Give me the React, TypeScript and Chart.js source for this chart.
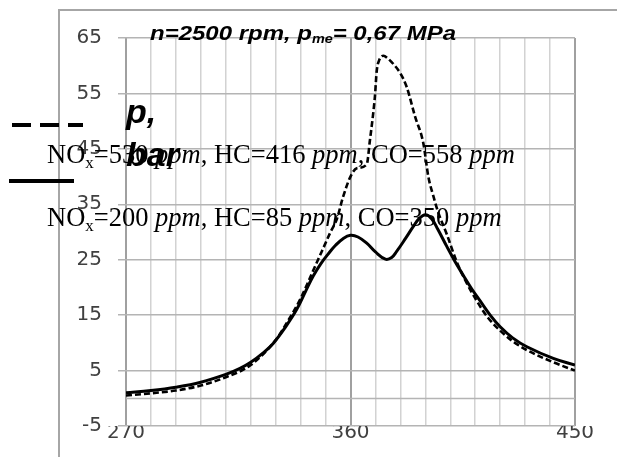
import React, { useEffect, useRef } from 'react';
import { Chart, registerables } from 'chart.js';

Chart.register(...registerables);

// Crank angle [deg] and cylinder pressure [bar]
// Solid curve: NOx=200 ppm, HC=85 ppm, CO=350 ppm
const solidAngles = [270, 280, 290, 300, 310, 315.7, 320, 325, 329, 334, 338.4, 342, 345, 348, 351, 354, 357, 360, 363, 366.5, 370, 374, 376.5, 378.5, 382, 385.2, 387.5, 390, 392.5, 395, 398.6, 402, 405.2, 408.5, 411.9, 416, 420, 425, 430.7, 441.3, 450];
const solidPressure = [1.0, 1.4, 2.0, 2.9, 4.3, 5.4, 6.5, 8.2, 9.9, 12.9, 16.0, 19.3, 22.0, 24.2, 26.0, 27.6, 28.8, 29.4, 29.1, 28.0, 26.4, 25.1, 25.4, 26.5, 28.8, 31.0, 32.4, 33.1, 32.4, 30.5, 27.4, 24.6, 22.2, 19.8, 17.6, 15.0, 12.9, 10.9, 9.3, 7.2, 6.0];

// Dashed curve: NOx=530 ppm, HC=416 ppm, CO=558 ppm
const dashedAngles = [270, 280, 290, 300, 310, 320, 330, 335, 340, 345, 349, 352, 354.5, 357, 360, 362.5, 366.5, 367.8, 369, 369.8, 370.5, 371.5, 373.2, 375, 377.2, 379.9, 382.5, 385.9, 389.2, 391.2, 393.2, 395.2, 398.6, 402.6, 406, 410.6, 415, 420, 425, 430.7, 441.3, 450];
const dashedPressure = [0.5, 0.9, 1.4, 2.3, 3.8, 6.0, 10.5, 14.0, 18.0, 23.0, 27.0, 30.0, 32.3, 36.3, 40.0, 41.5, 42.2, 46.6, 51.0, 54.5, 59.0, 61.0, 61.8, 61.3, 60.3, 58.7, 56.2, 50.8, 46.0, 40.0, 36.5, 33.5, 29.6, 24.6, 21.3, 17.6, 14.6, 12.2, 10.3, 8.7, 6.5, 5.0];

const xLabeledTicks = [270, 360, 450];
const xMajorTicks = [270, 360, 450];
const yMin = -5;
const yMax = 65;
const yStep = 10;
const xMin = 270;
const xMax = 450;
const xStep = 10;

const titleMain = 'n=2500 rpm, p';
const titleSub = 'me';
const titleTail = '= 0,67 MPa';
const axisLabelLine1 = 'p,';
const axisLabelLine2 = 'bar';

type Seg = { t: string; italic?: boolean; sub?: boolean };
const legendDashed: Seg[] = [
  { t: 'NO' }, { t: 'x', sub: true }, { t: '=530 ' }, { t: 'ppm', italic: true },
  { t: ', HC=416 ' }, { t: 'ppm', italic: true }, { t: ', CO=558 ' }, { t: 'ppm', italic: true },
];
const legendSolid: Seg[] = [
  { t: 'NO' }, { t: 'x', sub: true }, { t: '=200 ' }, { t: 'ppm', italic: true },
  { t: ', HC=85 ' }, { t: 'ppm', italic: true }, { t: ', CO=350 ' }, { t: 'ppm', italic: true },
];

const SERIF = '"Liberation Serif", "Times New Roman", serif';
const SANS = '"Liberation Sans", Arial, sans-serif';

function drawSerifLine(ctx: CanvasRenderingContext2D, segs: Seg[], x: number, y: number) {
  let cx = x;
  for (const s of segs) {
    const size = s.sub ? 17 : 26.5;
    ctx.font = `${s.italic ? 'italic ' : ''}${size}px ${SERIF}`;
    ctx.fillText(s.t, cx, s.sub ? y + 5 : y);
    cx += ctx.measureText(s.t).width;
  }
}

const overlayPlugin = {
  id: 'overlay',
  beforeDraw(chart: any) {
    const ctx = chart.ctx as CanvasRenderingContext2D;
    ctx.save();
    ctx.fillStyle = '#ffffff';
    ctx.fillRect(0, 0, chart.width, chart.height);
    ctx.strokeStyle = '#a6a6a6';
    ctx.lineWidth = 2;
    ctx.beginPath();
    ctx.moveTo(59, chart.height);
    ctx.lineTo(59, 10);
    ctx.lineTo(chart.width, 10);
    ctx.stroke();
    ctx.restore();
  },
  beforeDatasetsDraw(chart: any) {
    const ctx = chart.ctx as CanvasRenderingContext2D;
    const area = chart.chartArea;
    const y0 = Math.round(chart.scales.y.getPixelForValue(0)) + 0.5;
    ctx.save();
    ctx.strokeStyle = '#b4b4b4';
    ctx.lineWidth = 1.5;
    ctx.beginPath();
    ctx.moveTo(area.left, y0);
    ctx.lineTo(area.right, y0);
    ctx.stroke();
    ctx.restore();
  },
  afterDraw(chart: any) {
    const ctx = chart.ctx as CanvasRenderingContext2D;
    ctx.save();
    ctx.fillStyle = '#000';
    ctx.textBaseline = 'alphabetic';
    ctx.textAlign = 'left';

    // Title
    const bigFont = `italic bold 20px ${SANS}`;
    const subFont = `italic bold 12px ${SANS}`;
    ctx.font = bigFont;
    const w1 = ctx.measureText(titleMain).width;
    const w3 = ctx.measureText(titleTail).width;
    ctx.font = subFont;
    const w2 = ctx.measureText(titleSub).width;
    const natural = w1 + w2 + w3;
    const scaleX = 306 / natural;
    ctx.save();
    ctx.translate(150, 40);
    ctx.scale(scaleX, 1);
    ctx.font = bigFont;
    ctx.fillText(titleMain, 0, 0);
    ctx.font = subFont;
    ctx.fillText(titleSub, w1, 3);
    ctx.font = bigFont;
    ctx.fillText(titleTail, w1 + w2, 0);
    ctx.restore();

    // Legend line samples
    ctx.strokeStyle = '#000';
    ctx.lineWidth = 4;
    ctx.setLineDash([19, 9]);
    ctx.beginPath();
    ctx.moveTo(12, 125);
    ctx.lineTo(83, 125);
    ctx.stroke();
    ctx.setLineDash([]);
    ctx.beginPath();
    ctx.moveTo(9, 181);
    ctx.lineTo(74, 181);
    ctx.stroke();

    // Legend texts
    drawSerifLine(ctx, legendDashed, 47, 163);
    drawSerifLine(ctx, legendSolid, 47, 226);

    // Axis label
    ctx.font = `italic bold 34px ${SANS}`;
    ctx.fillText(axisLabelLine1, 126, 123);
    ctx.fillText(axisLabelLine2, 126, 166);
    ctx.restore();
  },
};

export default function App() {
  const canvasRef = useRef<HTMLCanvasElement | null>(null);

  useEffect(() => {
    if (!canvasRef.current) return;
    const chart = new Chart(canvasRef.current, {
      type: 'line',
      data: {
        datasets: [
          {
            label: 'NOx=530 ppm, HC=416 ppm, CO=558 ppm',
            data: dashedAngles.map((x, i) => ({ x, y: dashedPressure[i] })),
            borderColor: '#000',
            borderWidth: 2.6,
            borderDash: [6, 3],
            pointRadius: 0,
            cubicInterpolationMode: 'monotone',
            fill: false,
          },
          {
            label: 'NOx=200 ppm, HC=85 ppm, CO=350 ppm',
            data: solidAngles.map((x, i) => ({ x, y: solidPressure[i] })),
            borderColor: '#000',
            borderWidth: 3,
            pointRadius: 0,
            tension: 0.4,
            fill: false,
          },
        ],
      },
      options: {
        responsive: false,
        animation: false,
        devicePixelRatio: 1,
        layout: { padding: { top: 38, right: 42, bottom: 0, left: 0 } },
        plugins: {
          legend: { display: false },
          tooltip: { enabled: false },
          title: { display: false },
        },
        scales: {
          x: {
            type: 'linear',
            min: xMin,
            max: xMax,
            border: { display: false },
            afterFit: (scale: any) => { scale.height = 31; },
            grid: {
              drawTicks: false,
              color: (c: any) => (xMajorTicks.includes(c.tick?.value) ? '#a0a0a0' : '#d2d2d2'),
              lineWidth: (c: any) => (xMajorTicks.includes(c.tick?.value) ? 2 : 1.5),
            },
            ticks: {
              stepSize: xStep,
              autoSkip: false,
              maxRotation: 0,
              padding: -5,
              color: '#404040',
              font: { family: 'DejaVu Sans', size: 20 },
              callback: (v: any) => (xLabeledTicks.includes(Number(v)) ? String(v) : ''),
            },
          },
          y: {
            type: 'linear',
            min: yMin,
            max: yMax,
            border: { display: false },
            afterFit: (scale: any) => { scale.width = 126; },
            grid: {
              color: '#b4b4b4',
              lineWidth: 1.5,
              drawTicks: true,
              tickLength: 8,
            },
            ticks: {
              stepSize: yStep,
              padding: 16,
              color: '#404040',
              font: { family: 'DejaVu Sans', size: 20 },
            },
          },
        },
      },
      plugins: [overlayPlugin],
    } as any);
    return () => chart.destroy();
  }, []);

  return (
    <div style={{ position: 'fixed', left: 0, top: 0, width: 617, height: 457, background: '#fff' }}>
      <canvas ref={canvasRef} width={617} height={457} />
    </div>
  );
}
